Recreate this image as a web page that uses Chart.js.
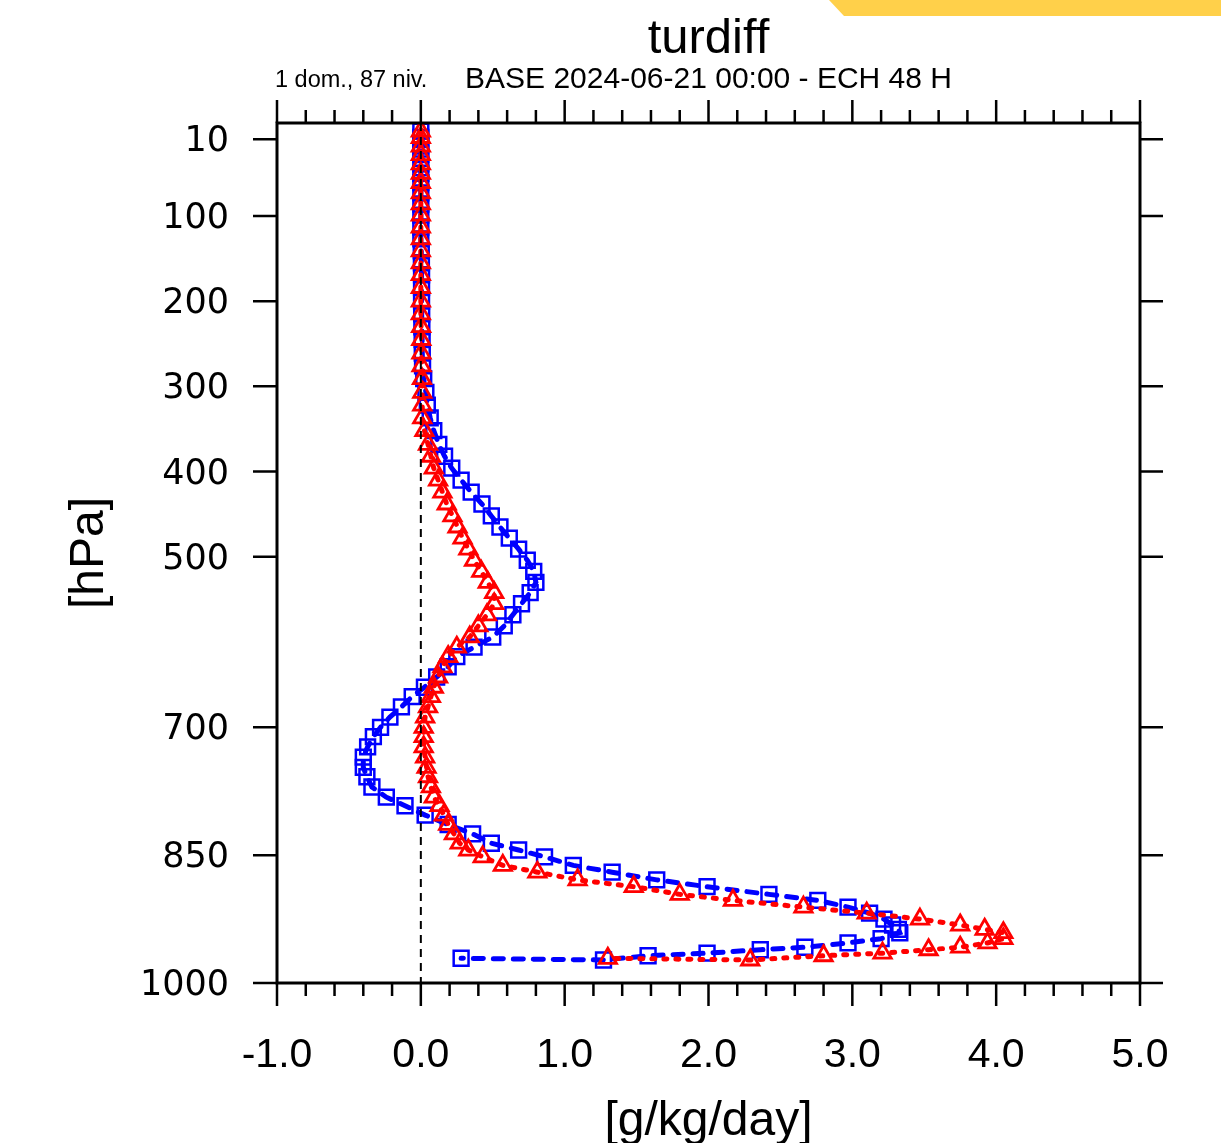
<!DOCTYPE html>
<html>
<head>
<meta charset="utf-8">
<title>turdiff</title>
<script src="https://cdn.jsdelivr.net/npm/chart.js@4.4.1/dist/chart.umd.min.js"></script>
<style>
  html, body { margin: 0; padding: 0; background: #fff; }
  #wrap { position: relative; width: 1221px; height: 1143px; overflow: hidden; }
  #banner {
    position: absolute; top: 0; left: 829px; width: 392px; height: 16px;
    background: #ffd04a;
    clip-path: polygon(0 0, 100% 0, 100% 100%, 15px 100%);
  }
</style>
</head>
<body>
<div id="wrap">
  <canvas id="prof" width="1221" height="1143"></canvas>
  <div id="banner"></div>
</div>
<script>
// niveaux du modele (hPa), du haut vers le sol
const levels = [
  0.5, 8, 18, 28, 39, 50, 61, 73, 86, 99, 113, 127, 141, 155,
  169, 184, 200, 215, 230, 245, 261, 276, 291, 307,
  322, 337, 352, 368, 382, 396, 410, 424, 438, 452, 465, 478, 491, 504, 517, 530, 542, 555, 568, 581, 594,
  606, 617, 629, 641, 653, 664, 676, 688, 700, 711, 723, 735, 747, 758, 770, 782, 792, 803, 814,
  825, 836, 844, 852, 862, 870, 879, 887, 896, 903, 911, 918, 925, 932, 937, 941, 948, 953, 958, 961, 965, 968, 973, 971
];

// profil bleu (carres, tirets longs)
const blueVals = [
  0, 0, 0, 0, 0, 0, 0, 0, 0, 0, 0, 0, 0.003, 0.004,
  0.005, 0.005, 0.005, 0.006, 0.007, 0.009, 0.01, 0.012, 0.02, 0.035,
  0.045, 0.065, 0.09, 0.125, 0.165, 0.215, 0.28, 0.35, 0.425, 0.49, 0.55, 0.615, 0.68, 0.74, 0.785, 0.80, 0.76, 0.70, 0.64, 0.58, 0.50,
  0.37, 0.25, 0.19, 0.11, 0.025, -0.06, -0.135, -0.215, -0.28, -0.33, -0.37, -0.40, -0.40, -0.375, -0.34, -0.24, -0.11, 0.03, 0.19,
  0.36, 0.49, 0.68, 0.86, 1.06, 1.33, 1.64, 1.99, 2.42, 2.76, 2.97, 3.12, 3.22, 3.28, 3.32, 3.33, 3.20, 2.97, 2.67, 2.36, 1.99, 1.58, 1.27, 0.28
];

// profil rouge (triangles, pointilles)
const redVals = [
  0, 0, 0, 0, 0, 0, 0, 0, 0, 0, 0, 0, 0, 0,
  0, 0, 0, 0, 0.002, 0.003, 0.004, 0.005, 0.008, 0.01,
  0.01, 0.01, 0.025, 0.05, 0.07, 0.09, 0.12, 0.15, 0.18, 0.22, 0.255, 0.29, 0.33, 0.37, 0.42, 0.465, 0.51, 0.51, 0.46, 0.40, 0.34,
  0.25, 0.19, 0.15, 0.12, 0.09, 0.07, 0.05, 0.03, 0.02, 0.02, 0.02, 0.03, 0.04, 0.05, 0.07, 0.09, 0.13, 0.16, 0.19,
  0.23, 0.27, 0.33, 0.43, 0.57, 0.81, 1.09, 1.48, 1.80, 2.17, 2.66, 3.10, 3.47, 3.75, 3.92, 4.05, 4.05, 3.94, 3.75, 3.53, 3.21, 2.80, 2.29, 1.30
];

const yTicks = [10, 100, 200, 300, 400, 500, 700, 850, 1000];
const xMin = -1, xMax = 5, xMinorStep = 0.2;
const yTop = -9, yBottom = 1000;

Chart.defaults.font.family = '"Liberation Sans", Arial, sans-serif';
Chart.defaults.color = '#000';

// cadre, graduations, ligne du zero, annotation
const frameTicks = {
  id: 'frameTicks',
  afterDatasetsDraw(chart) {
    const { ctx, chartArea: a, scales: { x, y } } = chart;
    ctx.save();
    const x0 = x.getPixelForValue(0);
    ctx.strokeStyle = '#000';
    ctx.lineWidth = 2;
    ctx.setLineDash([8, 6]);
    ctx.beginPath();
    ctx.moveTo(x0, a.top);
    ctx.lineTo(x0, a.bottom);
    ctx.stroke();
    ctx.setLineDash([]);

    ctx.lineWidth = 3;
    ctx.strokeRect(a.left, a.top, a.right - a.left, a.bottom - a.top);

    ctx.lineWidth = 2.5;
    ctx.beginPath();
    x.ticks.forEach(t => {
      const px = x.getPixelForValue(t.value);
      const major = Math.abs(t.value - Math.round(t.value)) < 1e-6;
      const len = major ? 23 : 13;
      ctx.moveTo(px, a.bottom); ctx.lineTo(px, a.bottom + len);
      ctx.moveTo(px, a.top); ctx.lineTo(px, a.top - len);
    });
    y.ticks.forEach(t => {
      const py = y.getPixelForValue(t.value);
      ctx.moveTo(a.left, py); ctx.lineTo(a.left - 24, py);
      ctx.moveTo(a.right, py); ctx.lineTo(a.right + 23, py);
    });
    ctx.stroke();

    ctx.fillStyle = '#000';
    ctx.font = '23.5px "Liberation Sans"';
    ctx.textAlign = 'left';
    ctx.textBaseline = 'alphabetic';
    ctx.fillText('1 dom., 87 niv.', 275, 87);
    ctx.restore();
  }
};

new Chart(document.getElementById('prof'), {
  type: 'scatter',
  data: {
    datasets: [
      {
        label: 'rouge',
        data: levels.map((p, i) => ({ x: redVals[i], y: p })),
        showLine: true,
        borderColor: '#ff0000',
        borderWidth: 5,
        borderDash: [3, 9],
        borderCapStyle: 'round',
        pointStyle: 'triangle',
        pointRadius: 10,
        pointBorderWidth: 2.8,
        pointBorderColor: '#ff0000',
        pointBackgroundColor: 'rgba(0,0,0,0)'
      },
      {
        label: 'bleu',
        data: levels.map((p, i) => ({ x: blueVals[i], y: p })),
        showLine: true,
        borderColor: '#0000ff',
        borderWidth: 5,
        borderDash: [10, 10],
        borderCapStyle: 'round',
        pointStyle: 'rect',
        pointRadius: 10.5,
        pointBorderWidth: 2.5,
        pointBorderColor: '#0000ff',
        pointBackgroundColor: 'rgba(0,0,0,0)'
      }
    ]
  },
  options: {
    responsive: false,
    animation: false,
    devicePixelRatio: 1,
    layout: { padding: { left: 0, right: 81, top: 0, bottom: 0 } },
    plugins: {
      legend: { display: false },
      tooltip: { enabled: false },
      title: {
        display: true,
        text: 'turdiff',
        fullSize: false,
        font: { size: 49, lineHeight: 1, weight: 'normal' },
        padding: { top: 15, bottom: 0 }
      },
      subtitle: {
        display: true,
        text: 'BASE 2024-06-21 00:00 - ECH 48 H',
        fullSize: false,
        font: { size: 30, lineHeight: 1 },
        padding: { top: 1, bottom: 28 }
      }
    },
    scales: {
      x: {
        type: 'linear',
        min: xMin,
        max: xMax,
        grid: { display: false },
        border: { display: false },
        ticks: {
          stepSize: xMinorStep,
          autoSkip: false,
          maxRotation: 0,
          padding: 44,
          font: { size: 41, lineHeight: 1 },
          callback: v => {
            const r = Math.round(v * 5) / 5;
            return Math.abs(r - Math.round(r)) < 1e-6 ? r.toFixed(1) : '';
          }
        },
        title: {
          display: true,
          text: '[g/kg/day]',
          font: { size: 48, lineHeight: 0.9 },
          padding: { top: 0, bottom: 0 }
        },
        afterFit: s => { s.height = 160; }
      },
      y: {
        type: 'linear',
        reverse: true,
        min: yTop,
        max: yBottom,
        grid: { display: false },
        border: { display: false },
        afterBuildTicks: s => { s.ticks = yTicks.map(v => ({ value: v })); },
        ticks: {
          padding: 40,
          labelOffset: 3,
          font: { family: '"DejaVu Sans"', size: 35, lineHeight: 1 },
          callback: v => String(v)
        },
        title: {
          display: true,
          text: '[hPa]',
          font: { size: 48, lineHeight: 1 },
          padding: { top: 66, bottom: 0 }
        },
        afterFit: s => { s.width = 277; }
      }
    }
  },
  plugins: [frameTicks]
});
</script>
</body>
</html>
